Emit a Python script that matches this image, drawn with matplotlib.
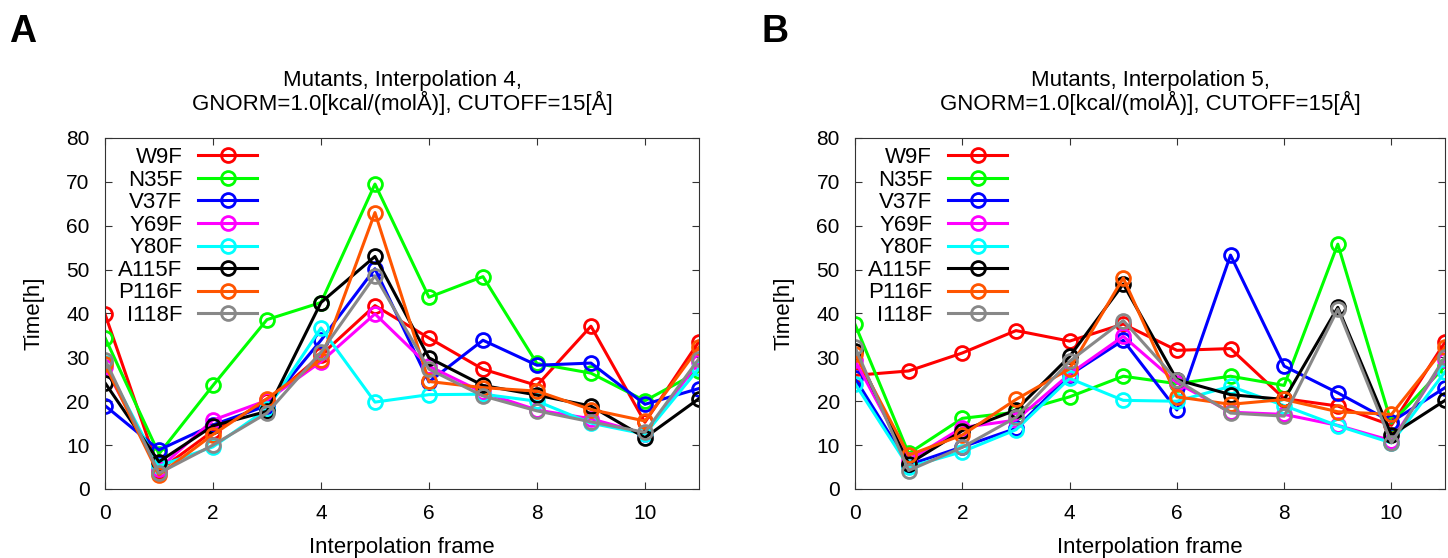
import matplotlib
matplotlib.use('Agg')
import matplotlib.pyplot as plt
import numpy as np

plt.rcParams['font.family'] = ['Liberation Sans', 'DejaVu Sans']

frames = list(range(12))
names = ['W9F', 'N35F', 'V37F', 'Y69F', 'Y80F', 'A115F', 'P116F', 'I118F']
colors = ['#ff0000', '#00ff00', '#0000ff', '#ff00ff', '#00ffff', '#000000', '#ff5500', '#888888']

# panel A: interpolation 4
w9f_a   = [39.9, 4.2, 13.2, 20.0, 30.5, 41.8, 34.4, 27.3, 23.6, 37.1, 15.2, 33.6]
n35f_a  = [34.5, 8.0, 23.6, 38.6, 42.5, 69.5, 43.7, 48.4, 28.6, 26.4, 20.1, 26.8]
v37f_a  = [19.0, 8.9, 14.6, 19.0, 33.9, 50.2, 24.4, 33.9, 28.2, 28.7, 19.3, 22.9]
y69f_a  = [27.8, 4.6, 15.7, 20.2, 29.0, 39.9, 28.0, 22.0, 18.0, 16.0, 12.6, 29.0]
y80f_a  = [28.6, 5.2, 9.6, 18.2, 36.7, 19.8, 21.5, 21.6, 20.0, 15.0, 12.5, 27.5]
a115f_a = [24.2, 6.2, 14.4, 17.7, 42.5, 53.0, 29.9, 23.6, 21.4, 18.9, 11.7, 20.6]
p116f_a = [28.4, 3.2, 12.4, 20.6, 29.5, 63.0, 24.5, 23.1, 22.3, 18.1, 15.5, 32.3]
i118f_a = [29.5, 3.6, 10.0, 17.3, 31.2, 48.6, 27.3, 21.2, 17.8, 15.3, 12.9, 29.7]

# panel B: interpolation 5
w9f_b   = [25.9, 26.9, 31.0, 36.1, 33.7, 37.6, 31.6, 32.0, 20.6, 18.9, 14.5, 33.5]
n35f_b  = [37.5, 8.1, 16.1, 17.5, 21.0, 25.7, 24.0, 25.7, 23.6, 55.8, 15.0, 28.0]
v37f_b  = [25.2, 5.5, 9.6, 13.8, 26.0, 33.9, 18.0, 53.3, 28.0, 21.9, 15.3, 23.1]
y69f_b  = [29.3, 6.5, 14.0, 15.7, 26.2, 34.8, 24.2, 17.5, 17.0, 14.5, 11.0, 29.5]
y80f_b  = [24.0, 5.0, 8.5, 13.5, 25.2, 20.2, 20.0, 23.4, 19.0, 14.4, 10.5, 26.7]
a115f_b = [31.5, 5.7, 13.3, 18.0, 30.2, 46.7, 24.9, 21.5, 20.4, 41.4, 12.3, 20.2]
p116f_b = [30.8, 7.7, 12.3, 20.4, 27.4, 48.1, 21.0, 19.3, 20.4, 17.6, 17.0, 32.3]
i118f_b = [32.3, 4.2, 9.5, 16.3, 29.1, 38.4, 24.8, 17.3, 16.6, 41.0, 10.5, 30.1]

series_a = [w9f_a, n35f_a, v37f_a, y69f_a, y80f_a, a115f_a, p116f_a, i118f_a]
series_b = [w9f_b, n35f_b, v37f_b, y69f_b, y80f_b, a115f_b, p116f_b, i118f_b]

fig = plt.figure(figsize=(14.48, 5.58), dpi=100)
axA = fig.add_axes([0.0725, 0.1237, 0.4102, 0.629])
axB = fig.add_axes([0.5905, 0.1237, 0.4075, 0.629])

fs = 16
for ax, series, n, letter, lx in [(axA, series_a, 4, 'A', 0.006), (axB, series_b, 5, 'B', 0.526)]:
    for name, col, vals in zip(names, colors, series):
        ax.plot(frames, vals, color=col, lw=2.2, marker='o', ms=10,
                mfc='none', mec=col, mew=2, label=name)
    ax.set_xlim(0, 11)
    ax.set_ylim(0, 80)
    ax.set_xticks([0, 2, 4, 6, 8, 10])
    ax.set_yticks(np.arange(0, 81, 10))
    ax.tick_params(direction='in', top=True, right=True, length=5, labelsize=15, pad=11,
                   color='#333333')
    for s in ax.spines.values():
        s.set_color('#333333')
    ax.set_xlabel('Interpolation frame', fontsize=fs, labelpad=10)
    ax.set_ylabel('Time[h]', fontsize=fs, labelpad=16)
    ax.set_title('Mutants, Interpolation %d,\nGNORM=1.0[kcal/(molÅ)], CUTOFF=15[Å]' % n,
                 fontsize=fs, pad=20, linespacing=1.0)
    ax.legend(loc='upper left', bbox_to_anchor=(0.022, 0.974), frameon=False,
              markerfirst=False, fontsize=fs, handlelength=2.66, handletextpad=0.72,
              labelspacing=0.07, borderpad=0, borderaxespad=0)
    fig.text(lx, 0.942, letter, fontsize=27, fontweight='bold', ha='left', va='center')

fig.savefig('out.png', dpi=100)
